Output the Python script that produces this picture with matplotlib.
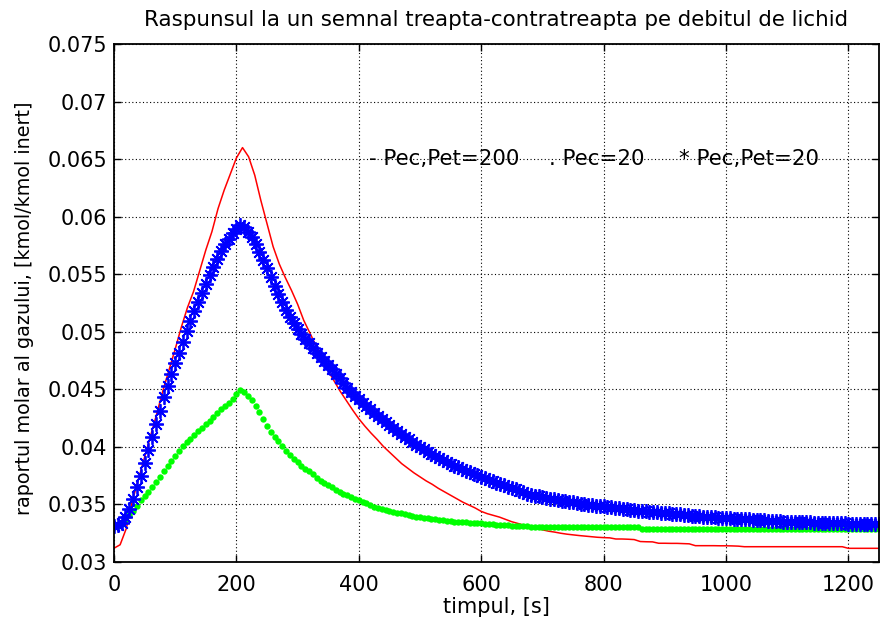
import numpy as np
import matplotlib
matplotlib.use("Agg")
import matplotlib.pyplot as plt

plt.rcParams['font.family'] = ['DejaVu Sans']

# red line, sampled every 10 s (0 ... 1250)
red_t = np.arange(0, 1251, 10)
red_y = [
    0.03120, 0.03150, 0.03290, 0.03530, 0.03720, 0.03910, 0.04100, 0.04290, 0.04490, 0.04670,
    0.04850, 0.05040, 0.05210, 0.05350, 0.05530, 0.05710, 0.05870, 0.06070, 0.06230, 0.06370,
    0.06510, 0.06600, 0.06520, 0.06360, 0.06140, 0.05940, 0.05740, 0.05590, 0.05470, 0.05360,
    0.05240, 0.05100, 0.04990, 0.04880, 0.04770, 0.04660, 0.04570, 0.04480, 0.04400, 0.04320,
    0.04245, 0.04180, 0.04120, 0.04065, 0.04005, 0.03955, 0.03905, 0.03855, 0.03815, 0.03775,
    0.03740, 0.03705, 0.03675, 0.03640, 0.03610, 0.03580, 0.03550, 0.03520, 0.03495, 0.03470,
    0.03440, 0.03420, 0.03405, 0.03390, 0.03370, 0.03350, 0.03335, 0.03320, 0.03310, 0.03295,
    0.03280, 0.03268, 0.03260, 0.03250, 0.03242, 0.03236, 0.03230, 0.03225, 0.03220, 0.03215,
    0.03212, 0.03210, 0.03200, 0.03200, 0.03198, 0.03195, 0.03178, 0.03176, 0.03175, 0.03163,
    0.03163, 0.03162, 0.03162, 0.03160, 0.03158, 0.03142, 0.03142, 0.03142, 0.03142, 0.03141,
    0.03141, 0.03140, 0.03138, 0.03133, 0.03133, 0.03133, 0.03133, 0.03133, 0.03133, 0.03133,
    0.03133, 0.03133, 0.03133, 0.03133, 0.03133, 0.03133, 0.03133, 0.03133, 0.03133, 0.03133,
    0.03119, 0.03119, 0.03119, 0.03119, 0.03119, 0.03119,
]

# green dots and blue stars, sampled every 6.25 s (0 ... 1250)
t = np.linspace(0, 1250, 201)
green_y = [
    0.03300, 0.03310, 0.03330, 0.03365, 0.03405, 0.03445, 0.03490, 0.03535,
    0.03575, 0.03612, 0.03650, 0.03695, 0.03742, 0.03790, 0.03833, 0.03878,
    0.03922, 0.03968, 0.04005, 0.04040, 0.04072, 0.04103, 0.04135, 0.04168,
    0.04198, 0.04228, 0.04262, 0.04295, 0.04325, 0.04352, 0.04382, 0.04418,
    0.04462, 0.04498, 0.04475, 0.04440, 0.04405, 0.04355, 0.04300, 0.04245,
    0.04185, 0.04128, 0.04085, 0.04052, 0.04012, 0.03965, 0.03928, 0.03895,
    0.03866, 0.03835, 0.03812, 0.03790, 0.03762, 0.03730, 0.03705, 0.03685,
    0.03665, 0.03648, 0.03630, 0.03612, 0.03595, 0.03578, 0.03562, 0.03547,
    0.03535, 0.03522, 0.03510, 0.03495, 0.03482, 0.03472, 0.03462, 0.03455,
    0.03445, 0.03438, 0.03430, 0.03422, 0.03415, 0.03408, 0.03400, 0.03395,
    0.03390, 0.03385, 0.03380, 0.03376, 0.03372, 0.03368, 0.03362, 0.03358,
    0.03355, 0.03352, 0.03350, 0.03348, 0.03345, 0.03343, 0.03341, 0.03339,
    0.03337, 0.03333, 0.03330, 0.03327, 0.03324, 0.03322, 0.03320, 0.03318,
    0.03316, 0.03314, 0.03312, 0.03310, 0.03309, 0.03308, 0.03307, 0.03307,
    0.03307, 0.03307, 0.03307, 0.03307, 0.03307, 0.03307, 0.03307, 0.03307,
    0.03307, 0.03307, 0.03307, 0.03307, 0.03307, 0.03307, 0.03307, 0.03307,
    0.03307, 0.03307, 0.03307, 0.03307, 0.03307, 0.03307, 0.03307, 0.03307,
    0.03307, 0.03307, 0.03290, 0.03290, 0.03290, 0.03290, 0.03290, 0.03290,
    0.03290, 0.03290, 0.03290, 0.03290, 0.03290, 0.03290, 0.03290, 0.03290,
    0.03290, 0.03290, 0.03290, 0.03290, 0.03290, 0.03290, 0.03290, 0.03290,
    0.03290, 0.03290, 0.03290, 0.03290, 0.03290, 0.03290, 0.03290, 0.03290,
    0.03290, 0.03290, 0.03290, 0.03290, 0.03290, 0.03290, 0.03290, 0.03290,
    0.03290, 0.03290, 0.03290, 0.03290, 0.03290, 0.03290, 0.03290, 0.03290,
    0.03290, 0.03290, 0.03290, 0.03290, 0.03290, 0.03290, 0.03290, 0.03290,
    0.03290, 0.03290, 0.03290, 0.03290, 0.03290, 0.03290, 0.03290, 0.03290,
    0.03290,
]
blue_y = [
    0.03310, 0.03318, 0.03335, 0.03390, 0.03460, 0.03550, 0.03650, 0.03750,
    0.03860, 0.03970, 0.04085, 0.04200, 0.04315, 0.04430, 0.04530, 0.04630,
    0.04730, 0.04820, 0.04910, 0.05005, 0.05095, 0.05180, 0.05260, 0.05340,
    0.05415, 0.05490, 0.05560, 0.05630, 0.05700, 0.05760, 0.05810, 0.05860,
    0.05895, 0.05925, 0.05910, 0.05870, 0.05820, 0.05760, 0.05695, 0.05625,
    0.05550, 0.05475, 0.05400, 0.05325, 0.05255, 0.05190, 0.05130, 0.05075,
    0.05025, 0.04980, 0.04940, 0.04900, 0.04860, 0.04820, 0.04785, 0.04750,
    0.04715, 0.04675, 0.04635, 0.04595, 0.04555, 0.04515, 0.04478, 0.04445,
    0.04415, 0.04385, 0.04355, 0.04325, 0.04295, 0.04268, 0.04240, 0.04215,
    0.04190, 0.04165, 0.04140, 0.04115, 0.04090, 0.04065, 0.04040, 0.04015,
    0.04000, 0.03980, 0.03960, 0.03940, 0.03920, 0.03900, 0.03882, 0.03865,
    0.03850, 0.03836, 0.03822, 0.03808, 0.03795, 0.03778, 0.03765, 0.03752,
    0.03740, 0.03727, 0.03714, 0.03701, 0.03688, 0.03676, 0.03665, 0.03654,
    0.03643, 0.03633, 0.03618, 0.03606, 0.03595, 0.03585, 0.03577, 0.03570,
    0.03563, 0.03556, 0.03550, 0.03544, 0.03538, 0.03533, 0.03528, 0.03523,
    0.03518, 0.03513, 0.03508, 0.03503, 0.03499, 0.03495, 0.03491, 0.03487,
    0.03483, 0.03479, 0.03475, 0.03471, 0.03467, 0.03463, 0.03459, 0.03455,
    0.03451, 0.03447, 0.03443, 0.03440, 0.03437, 0.03434, 0.03431, 0.03428,
    0.03425, 0.03422, 0.03419, 0.03416, 0.03413, 0.03410, 0.03407, 0.03404,
    0.03401, 0.03398, 0.03395, 0.03392, 0.03390, 0.03388, 0.03386, 0.03384,
    0.03382, 0.03380, 0.03378, 0.03376, 0.03374, 0.03372, 0.03370, 0.03368,
    0.03366, 0.03364, 0.03362, 0.03360, 0.03358, 0.03356, 0.03354, 0.03352,
    0.03350, 0.03349, 0.03348, 0.03347, 0.03346, 0.03345, 0.03344, 0.03343,
    0.03342, 0.03341, 0.03340, 0.03339, 0.03338, 0.03337, 0.03336, 0.03335,
    0.03334, 0.03333, 0.03332, 0.03331, 0.03330, 0.03329, 0.03328, 0.03327,
    0.03326,
]

x_ticks = [0, 200, 400, 600, 800, 1000, 1200]
y_ticks = [0.03, 0.035, 0.04, 0.045, 0.05, 0.055, 0.06, 0.065, 0.07, 0.075]
y_tick_labels = ['0.03', '0.035', '0.04', '0.045', '0.05', '0.055',
                 '0.06', '0.065', '0.07', '0.075']

fig = plt.figure(figsize=(8.81, 6.26), dpi=100)
ax = fig.add_axes([0.1294, 0.1022, 0.8683, 0.8275])

ax.plot(red_t, red_y, '-', color='#ff0000', lw=1.1)
ax.plot(t, green_y, 'o', color='#00ff00', ms=4.6, mec='none')
ax.plot(t, blue_y, linestyle='none', marker=(8, 2, 0), color='#0000ff',
        ms=10.5, mew=1.3)

ax.set_xlim(0, 1250)
ax.set_ylim(0.03, 0.075)
ax.set_xticks(x_ticks)
ax.set_yticks(y_ticks)
ax.set_yticklabels(y_tick_labels)
ax.grid(True, color='black', linestyle=(0, (1, 2.2)), lw=0.8)
ax.tick_params(direction='in', length=5, top=True, right=True,
               labelsize=15, width=1)
ax.tick_params(axis='x', pad=9)
ax.tick_params(axis='y', pad=5)
for s in ax.spines.values():
    s.set_linewidth(1.3)

ax.set_title('Raspunsul la un semnal treapta-contratreapta pe debitul de lichid',
             fontsize=15.4, pad=13)
ax.set_xlabel('timpul, [s]', fontsize=15, labelpad=2)
ax.set_ylabel('raportul molar al gazului, [kmol/kmol inert]', fontsize=13.8)
ax.yaxis.set_label_coords(-0.104, 0.49)

ax.text(416, 0.065, '- Pec,Pet=200', fontsize=15.4, va='center')
ax.text(711, 0.065, '. Pec=20', fontsize=15.4, va='center')
ax.text(923, 0.065, '* Pec,Pet=20', fontsize=15.4, va='center')

fig.savefig('out.png', dpi=100)
